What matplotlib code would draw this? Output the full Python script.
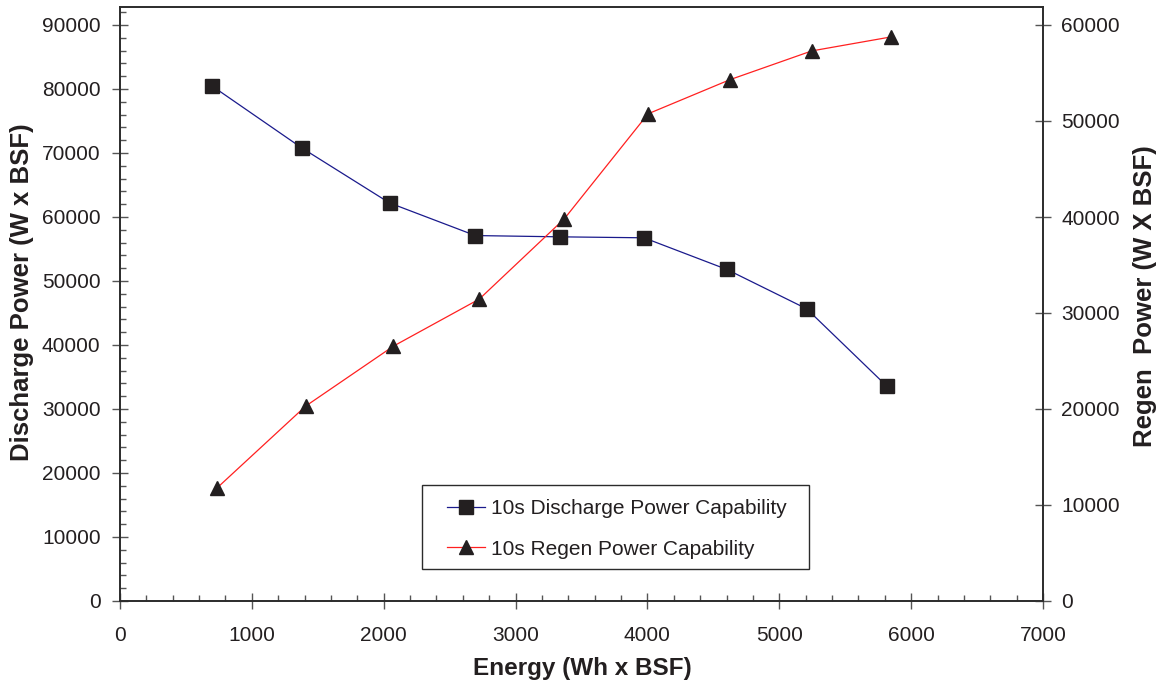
import matplotlib
matplotlib.use("Agg")
import matplotlib.pyplot as plt
from matplotlib.ticker import MultipleLocator
from matplotlib.patches import Rectangle

plt.rcParams['font.family'] = ['Liberation Sans', 'DejaVu Sans']

# Data
dis_energy = [696, 1378, 2044, 2695, 3338, 3974, 4603, 5208, 5814]
dis_power = [80500, 70800, 62200, 57100, 56900, 56750, 51800, 45650, 33600]
regen_energy = [734, 1408, 2074, 2725, 3369, 4005, 4625, 5246, 5844]
regen_power = [11750, 20300, 26550, 31450, 39800, 50750, 54300, 57300, 58750]

dis_label = "10s Discharge Power Capability"
regen_label = "10s Regen Power Capability"
xlabel = "Energy (Wh x BSF)"
ylabel_left = "Discharge Power (W x BSF)"
ylabel_right = "Regen  Power (W X BSF)"

txt = '#231f20'
W, H = 1159, 687
L, R, B, T = 120, 1043, 601, 7
fig = plt.figure(figsize=(W/100, H/100), dpi=100)
ax = fig.add_axes([L/W, (H-B)/H, (R-L)/W, (B-T)/H])
ax2 = ax.twinx()

def ax_x(px):
    return (px - L) / (R - L)

def ax_y(py):
    return (B - py) / (B - T)

l1, = ax.plot(dis_energy, dis_power, color='#1a1a8c', lw=0.9, marker='s',
              markersize=9.5, markerfacecolor=txt, markeredgecolor=txt, label=dis_label)
l2, = ax2.plot(regen_energy, regen_power, color='#ff2020', lw=0.9, marker='^',
               markersize=10, markerfacecolor=txt, markeredgecolor=txt, label=regen_label)

ax.set_xlim(0, 7000)
ax.set_ylim(0, 92812)
ax2.set_ylim(0, 61875)

ax.xaxis.set_major_locator(MultipleLocator(1000))
ax.xaxis.set_minor_locator(MultipleLocator(200))
ax.yaxis.set_major_locator(MultipleLocator(10000))
ax.yaxis.set_minor_locator(MultipleLocator(2000))
ax2.yaxis.set_major_locator(MultipleLocator(10000))

for a in (ax, ax2):
    for s in a.spines.values():
        s.set_color('#2b2b2b')
        s.set_linewidth(1.2)

ax.tick_params(axis='both', which='major', direction='inout', length=12, width=1,
               color='#555555', labelsize=15, labelcolor=txt)
ax.tick_params(axis='x', which='major', pad=12)
ax.tick_params(axis='y', which='major', pad=8)
ax.tick_params(axis='both', which='minor', direction='in', length=4, width=1, color='#555555')
ax.tick_params(axis='y', which='both', right=False)
ax.tick_params(axis='x', which='both', top=False)
ax2.tick_params(axis='y', which='major', direction='inout', length=12, width=1,
                color='#555555', labelsize=15, labelcolor=txt, pad=7)
ax2.tick_params(axis='y', which='minor', right=False)

xl = ax.set_xlabel(xlabel, fontsize=17.5, fontweight='bold', color=txt)
yl = ax.set_ylabel(ylabel_left, fontsize=18.5, fontweight='bold', color=txt)
yr = ax2.set_ylabel(ylabel_right, fontsize=18.5, fontweight='bold', color=txt, rotation=90)
for lab in (xl, yl, yr):
    lab.set_verticalalignment('center')
    lab.set_horizontalalignment('center')
    lab.set_rotation_mode('default')
ax.xaxis.set_label_coords(ax_x((472 + 692) / 2), ax_y(668))
ax.yaxis.set_label_coords(ax_x(22.5), ax_y(292))
ax2.yaxis.set_label_coords(ax_x(1145), ax_y(296))

# legend box
ax.add_patch(Rectangle((ax_x(422), ax_y(569)), ax_x(809) - ax_x(422), ax_y(485) - ax_y(569),
                       transform=ax.transAxes, fill=True, facecolor='white',
                       edgecolor='#2b2b2b', lw=1.0, zorder=4))
leg = ax.legend(handles=[l1, l2], loc='upper left',
                bbox_to_anchor=(ax_x(447), ax_y(499)),
                fontsize=15, frameon=False, handlelength=1.8, handletextpad=0.3,
                labelspacing=1.04, borderpad=0, borderaxespad=0)
leg.set_zorder(5)
for t in leg.get_texts():
    t.set_color(txt)

fig.savefig('out.png', dpi=100)
